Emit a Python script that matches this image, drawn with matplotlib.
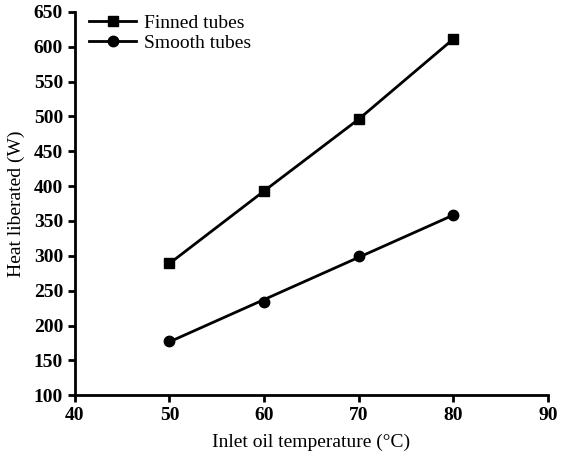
import numpy as np
import matplotlib
matplotlib.use('Agg')
import matplotlib.pyplot as plt

plt.rcParams['font.family'] = ['Liberation Serif', 'DejaVu Serif']

# data
temps = [50, 60, 70, 80]
finned = [289, 393, 496, 611]
smooth = [178, 234, 300, 358]

fig = plt.figure(figsize=(5.63, 4.59), dpi=100)
ax = fig.add_axes([0.133, 0.139, 0.840, 0.835])

ax.plot(temps, finned, '-s', color='black', lw=2, markersize=7.5, label='Finned tubes')

# smooth tubes: points plus straight fitted line
coef = np.polyfit(temps, smooth, 1)
fit = np.polyval(coef, temps)
ax.plot(temps, fit, '-', color='black', lw=2)
ax.plot(temps, smooth, 'o', color='black', markersize=7.5)
ax.plot([], [], '-o', color='black', lw=2, markersize=7.5, label='Smooth tubes')

ax.set_xlim(40, 90)
ax.set_ylim(100, 650)
ax.set_xticks(range(40, 91, 10))
ax.set_yticks(range(100, 651, 50))

for s in ['top', 'right']:
    ax.spines[s].set_visible(False)
for s in ['left', 'bottom']:
    ax.spines[s].set_linewidth(2)
ax.tick_params(width=2, length=5, labelsize=14, direction='out')
for lab in ax.get_xticklabels() + ax.get_yticklabels():
    lab.set_fontweight('bold')

ax.set_xlabel('Inlet oil temperature (°C)', fontsize=14, labelpad=7)
ax.set_ylabel('Heat liberated (W)', fontsize=14, labelpad=6)

ax.legend(loc='upper left', frameon=False, fontsize=14, handlelength=2.4,
          borderaxespad=0.1, labelspacing=0.15, handletextpad=0.4,
          bbox_to_anchor=(0.01, 1.02))

fig.savefig('out.png', dpi=100)
